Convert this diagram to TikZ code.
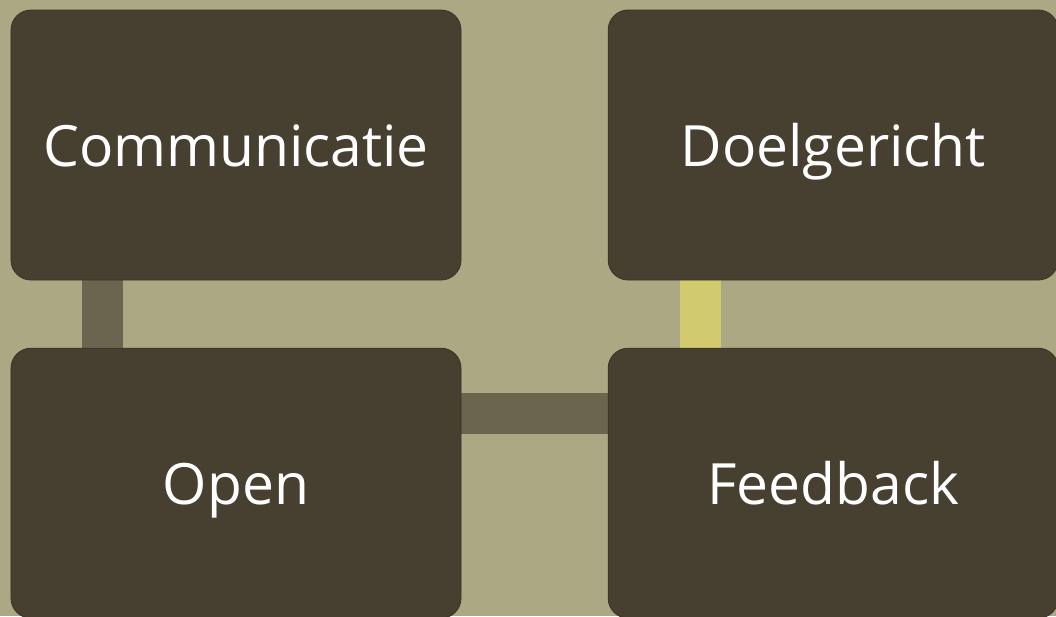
\documentclass[tikz,border=0pt]{standalone}
\usepackage{fontspec}
\setmainfont{Open Sans}
\usepackage{tikz}

\definecolor{olivebg}{HTML}{ABA883}
\definecolor{boxbrown}{HTML}{474031}
\definecolor{boxedge}{HTML}{3A3427}
\definecolor{barbrown}{HTML}{6B6550}
\definecolor{baryellow}{HTML}{D1CA6E}

\pgfdeclarelayer{ground}
\pgfdeclarelayer{bars}
\pgfsetlayers{ground,bars,main}

\tikzset{
  tile/.style={rectangle, rounded corners=0.5cm, fill=boxbrown, draw=boxedge,
    line width=0.6pt, minimum width=11.25cm, minimum height=6.75cm,
    text=white, font=\fontsize{40.5}{48}\selectfont,
    text height=30pt, text depth=0pt},
  bar/.style={line width=1.03cm, draw=#1}
}

\begin{document}
\begin{tikzpicture}
  \begin{pgfonlayer}{ground}
    \fill[olivebg] (0,0) rectangle (26.4,-15.4);
  \end{pgfonlayer}
  \useasboundingbox (0,0) rectangle (26.4,-15.4);
  \node[tile] (com)  at (5.9,-3.625)   {Communicatie};
  \node[tile] (doel) at (20.83,-3.625) {Doelgericht};
  \node[tile] (open) at (5.9,-12.08)   {Open};
  \node[tile] (feed) at (20.83,-12.08) {Feedback};
  % connecting bars, under the tiles
  \begin{pgfonlayer}{bars}
    \draw[bar=barbrown] ([xshift=2.3cm]com.south west) -- ([xshift=2.3cm]open.north west);
    \draw[bar=baryellow] ([xshift=2.32cm]doel.south west) -- ([xshift=2.32cm]feed.north west);
    \draw[bar=barbrown] ([yshift=-1.65cm]open.north east) -- ([yshift=-1.65cm]feed.north west);
  \end{pgfonlayer}
\end{tikzpicture}
\end{document}
